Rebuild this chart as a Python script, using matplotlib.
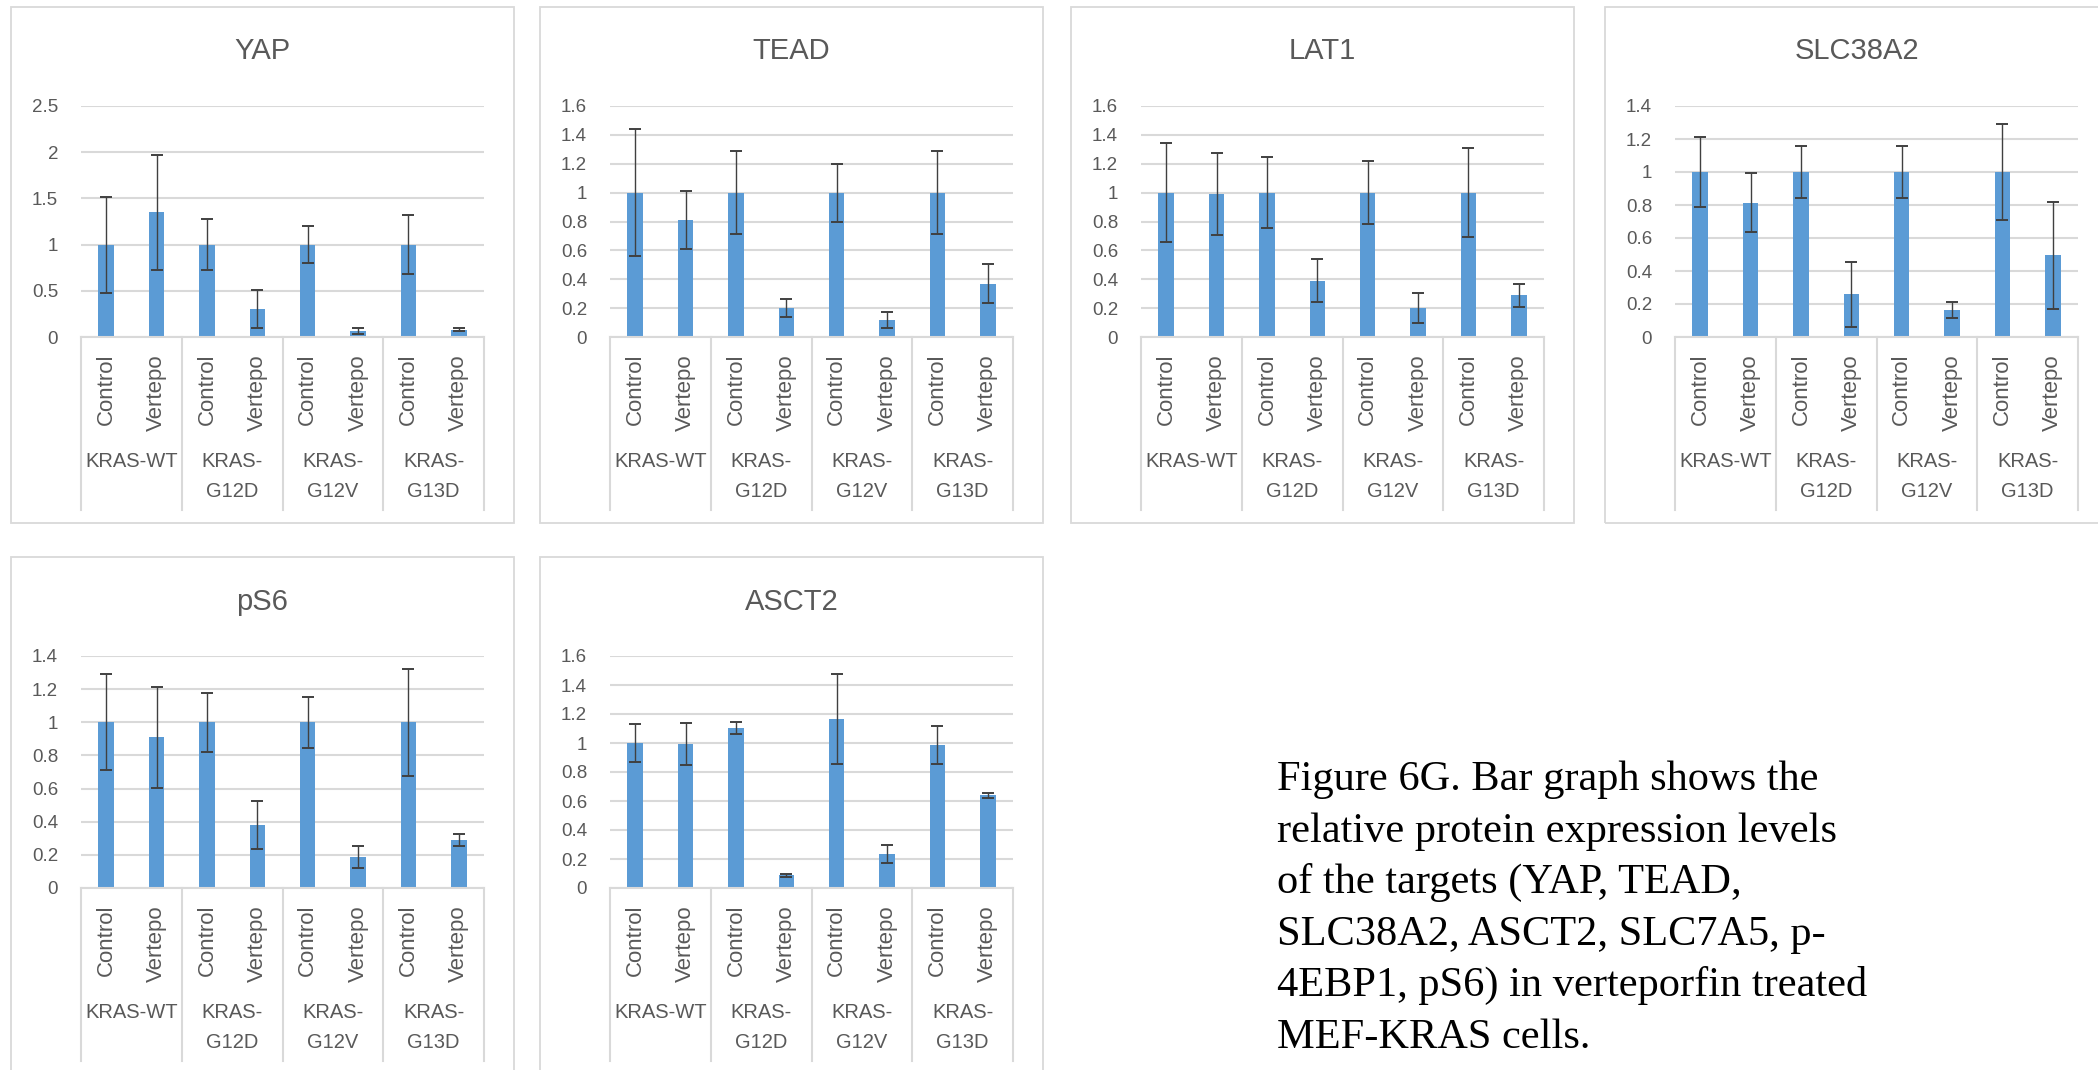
import numpy as np
import matplotlib
matplotlib.use("Agg")
import matplotlib.pyplot as plt
import matplotlib.transforms as mtransforms
from matplotlib.patches import Rectangle

plt.rcParams['font.family'] = ['Liberation Sans', 'DejaVu Sans']

# ---- data ----
treatments = ['Control', 'Vertepo']
group_labels = ['KRAS-WT', 'KRAS-\nG12D', 'KRAS-\nG12V', 'KRAS-\nG13D']

yap_mean = [1, 1.35, 1, 0.30, 1, 0.066, 1, 0.08]
yap_err = [0.52, 0.62, 0.28, 0.205, 0.20, 0.03, 0.32, 0.02]
tead_mean = [1, 0.81, 1, 0.20, 1, 0.12, 1, 0.37]
tead_err = [0.44, 0.20, 0.29, 0.06, 0.20, 0.055, 0.285, 0.135]
lat1_mean = [1, 0.99, 1, 0.39, 1, 0.20, 1, 0.29]
lat1_err = [0.345, 0.285, 0.245, 0.148, 0.22, 0.105, 0.306, 0.08]
slc38a2_mean = [1, 0.814, 1, 0.26, 1, 0.164, 1, 0.495]
slc38a2_err = [0.21, 0.177, 0.157, 0.197, 0.157, 0.05, 0.29, 0.324]
ps6_mean = [1, 0.909, 1, 0.379, 1, 0.187, 1, 0.289]
ps6_err = [0.29, 0.306, 0.177, 0.146, 0.153, 0.066, 0.324, 0.037]
asct2_mean = [1.0, 0.992, 1.104, 0.088, 1.164, 0.235, 0.987, 0.638]
asct2_err = [0.129, 0.143, 0.043, 0.012, 0.31, 0.064, 0.133, 0.015]

titles = ['YAP', 'TEAD', 'LAT1', 'SLC38A2', 'pS6', 'ASCT2']
means = [yap_mean, tead_mean, lat1_mean, slc38a2_mean, ps6_mean, asct2_mean]
errs = [yap_err, tead_err, lat1_err, slc38a2_err, ps6_err, asct2_err]
ymax = [2.5, 1.6, 1.6, 1.4, 1.4, 1.6]
ystep = [0.5, 0.2, 0.2, 0.2, 0.2, 0.2]

caption = ["Figure 6G. Bar graph shows the",
           "relative protein expression levels",
           "of the targets (YAP, TEAD,",
           "SLC38A2, ASCT2, SLC7A5, p-",
           "4EBP1, pS6) in verteporfin treated",
           "MEF-KRAS cells."]

# ---- layout (pixels) ----
W, H = 2098, 1070
fig = plt.figure(figsize=(W / 100, H / 100), dpi=100)
fig.patch.set_facecolor('white')

BLUE = '#5B9BD5'
GRID = '#D9D9D9'
TXT = '#595959'

box_left = [11, 540, 1071, 1605, 11, 540]
# box_top, axis_top, axis_zero, cat_bottom, box_bottom, title_y
rows = [(7, 106, 337, 510, 523, 51), (557, 656, 888, 1061, 1080, 602)]

for k in range(6):
    L = box_left[k]
    btop, atop, zero, cbot, bbot, ty = rows[0] if k < 4 else rows[1]

    fig.patches.append(Rectangle((L / W, 1 - bbot / H), 503 / W, (bbot - btop) / H,
                                 transform=fig.transFigure, fill=False,
                                 edgecolor=GRID, lw=1.3))
    fig.text((L + 251.5) / W, 1 - ty / H, titles[k], ha='center', va='center',
             fontsize=21, color=TXT)

    ax = fig.add_axes([(L + 70) / W, 1 - zero / H, 403 / W, (zero - atop) / H])
    x = np.arange(len(means[k]))
    ax.bar(x, means[k], width=0.31, color=BLUE, zorder=2)
    ax.errorbar(x, means[k], yerr=errs[k], fmt='none', ecolor='#404040',
                elinewidth=1.0, capsize=4.5, capthick=1.4, zorder=3)
    ax.set_xlim(-0.5, len(x) - 0.5)
    ax.set_ylim(0, ymax[k])
    ticks = np.round(np.arange(0, ymax[k] + 1e-9, ystep[k]), 2)
    ax.set_yticks(ticks)
    ax.set_yticklabels([f"{t:g}" for t in ticks])
    ax.tick_params(axis='y', length=0, pad=16.5, labelsize=13.5, labelcolor=TXT)
    ax.set_xticks([])
    ax.yaxis.grid(True, color=GRID, lw=1.5)
    ax.set_axisbelow(True)
    for s in ['top', 'right', 'left']:
        ax.spines[s].set_visible(False)
    ax.spines['bottom'].set_color(GRID)
    ax.spines['bottom'].set_linewidth(1.5)

    trans = mtransforms.blended_transform_factory(ax.transData, ax.transAxes)
    depth = (cbot - zero) / (zero - atop)
    for b in np.arange(-0.5, len(x), 2):
        ax.plot([b, b], [0, -depth], transform=trans, color=GRID, lw=1.5,
                clip_on=False)

    for i in x:
        ax.annotate(treatments[i % 2], xy=(i, 0), xycoords=trans,
                    xytext=(0, -12.2), textcoords='offset points',
                    rotation=90, ha='center', va='top', fontsize=16, color=TXT)
    for g, lab in enumerate(group_labels):
        for j, line in enumerate(lab.split('\n')):
            ax.annotate(line, xy=(2 * g + 0.5, 0), xycoords=trans,
                        xytext=(0, -(130 + 30 * j) * 0.72), textcoords='offset points',
                        ha='center', va='baseline', fontsize=14.5, color=TXT)

for j, line in enumerate(caption):
    fig.text(1277 / W, 1 - (790 + 51.6 * j) / H, line, ha='left', va='baseline',
             fontsize=30.5, family=['Liberation Serif', 'DejaVu Serif'], color='black')

fig.savefig('out.png', dpi=100, facecolor='white')
